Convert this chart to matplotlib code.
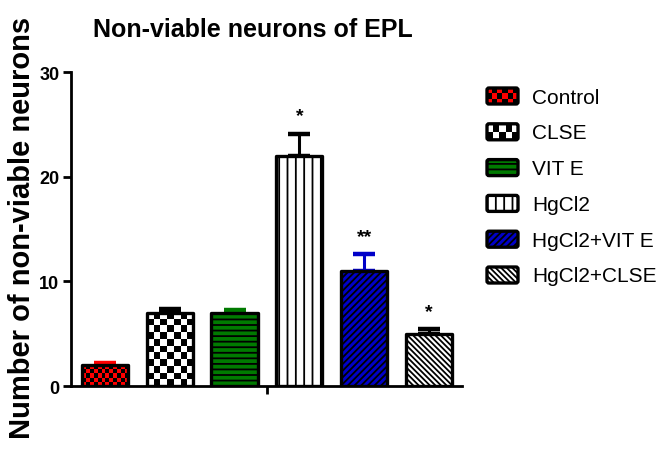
import numpy as np
import matplotlib
matplotlib.use("Agg")
import matplotlib.pyplot as plt
from matplotlib.colors import ListedColormap
from matplotlib.patches import Rectangle, FancyBboxPatch

# data
groups = ["Control", "CLSE", "VIT E", "HgCl2", "HgCl2+VIT E", "HgCl2+CLSE"]
means = [2.0, 7.0, 7.0, 22.0, 11.0, 5.0]
errs = [0.15, 0.35, 0.3, 2.1, 1.6, 0.4]
stars = ["", "", "", "*", "**", "*"]

# styles
faces = ["#ff0000", "white", "#007a00", "white", "#0000c8", "white"]
err_colors = ["#ff0000", "black", "#007a00", "black", "#0000c8", "black"]
hatches = [None, None, "---", "||", "/////", "\\" * 6]
checker = [4, 6.5, None, None, None, None]   # checker cell size in px

font = "Liberation Sans"
plt.rcParams["hatch.linewidth"] = 1.3

W, H = 657, 452
fig = plt.figure(figsize=(W / 100, H / 100), dpi=100)
ax = fig.add_axes([70.5 / W, 1 - 387 / H, 391.2 / W, 314 / H])

x = np.arange(len(groups))
bw = 0.71
ax.set_xlim(-0.527, 5.5)
ax.set_ylim(0, 30)


def checker_fill(a, rect, cell, color, trans_px):
    x0, y0 = rect.get_x(), rect.get_y()
    w, h = rect.get_width(), rect.get_height()
    p0 = trans_px.transform((x0, y0))
    p1 = trans_px.transform((x0 + w, y0 + h))
    nx = max(1, int(round(abs(p1[0] - p0[0]) / cell)))
    ny = max(1, int(round(abs(p1[1] - p0[1]) / cell)))
    board = (np.add.outer(np.arange(ny), np.arange(nx)) % 2).astype(float)
    img = a.imshow(board, extent=(x0, x0 + w, y0, y0 + h), origin="lower",
                   cmap=ListedColormap([color, "black"]), interpolation="nearest",
                   aspect="auto", zorder=2)
    img.set_clip_path(rect)


for i in range(len(groups)):
    if hatches[i]:
        b = ax.bar(x[i], means[i], bw, color=faces[i], hatch=hatches[i],
                   edgecolor="black", linewidth=0, zorder=2)
    else:
        b = ax.bar(x[i], means[i], bw, color=faces[i], linewidth=0, zorder=2)
    if checker[i]:
        checker_fill(ax, b[0], checker[i], faces[i], ax.transData)
    ax.bar(x[i], means[i], bw, fill=False, edgecolor="black", linewidth=2.4,
           joinstyle="round", zorder=3)
    ax.errorbar(x[i], means[i], yerr=[[0], [errs[i]]], fmt="none",
                ecolor=err_colors[i], elinewidth=2.2, capsize=8, capthick=3.2,
                zorder=1)
    if stars[i]:
        ax.text(x[i], means[i] + errs[i] + 0.9, stars[i], ha="center",
                va="bottom", fontsize=14, fontweight="bold", family=font)

ax.set_xlim(-0.527, 5.5)
ax.set_ylim(0, 30)
ax.spines[["top", "right"]].set_visible(False)
ax.spines[["left", "bottom"]].set_linewidth(2)
ax.set_yticks([0, 10, 20, 30])
ax.set_xticks([2.5])
ax.set_xticklabels([""])
ax.tick_params(axis="both", length=6, width=2)
for lab in ax.get_yticklabels():
    lab.set_family(font)
    lab.set_fontweight("bold")
    lab.set_fontsize(13)
ax.tick_params(axis="y", pad=2)

fig.text(93 / W, 1 - 37 / H, "Non-viable neurons of EPL", family=font,
         fontweight="bold", fontsize=18, ha="left", va="baseline")
fig.text(22 / W, 1 - 228 / H, "Number of non-viable neurons",
         family=font, fontweight="bold", fontsize=21,
         rotation=90, ha="center", va="center")

# legend drawn in pixel coordinates
lax = fig.add_axes([0, 0, 1, 1])
lax.set_xlim(0, W)
lax.set_ylim(H, 0)
lax.axis("off")
lcheck = [5, 6.5, None, None, None, None]
for i, name in enumerate(groups):
    yc = 97 + 35.8 * i
    r = Rectangle((487, yc - 8), 31, 16, facecolor=faces[i],
                  hatch=hatches[i], edgecolor="black", linewidth=0)
    lax.add_patch(r)
    if lcheck[i]:
        checker_fill(lax, r, lcheck[i], faces[i], lax.transData)
    lax.add_patch(FancyBboxPatch((487, yc - 8), 31, 16,
                                 boxstyle="round,pad=0,rounding_size=2",
                                 fill=False, edgecolor="black", linewidth=2.4,
                                 zorder=3))
    lax.text(532, yc + 1, name, family=font, fontsize=15, ha="left",
             va="center")

fig.savefig("out.png", dpi=100)
